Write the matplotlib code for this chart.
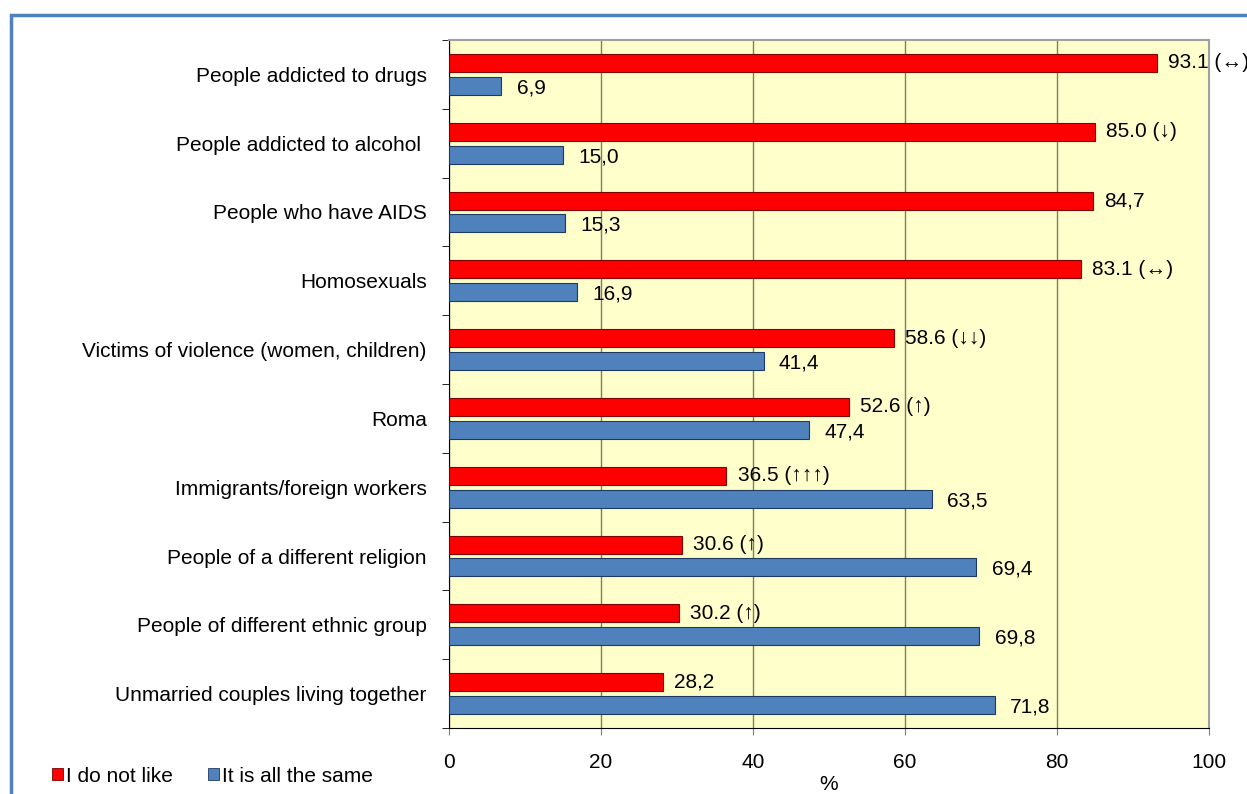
import matplotlib
matplotlib.use("Agg")
import matplotlib.pyplot as plt
from matplotlib.patches import Patch, Rectangle
import numpy as np

plt.rcParams['font.family'] = ['Liberation Sans', 'DejaVu Sans']

categories = [
    "People addicted to drugs",
    "People addicted to alcohol ",
    "People who have AIDS",
    "Homosexuals",
    "Victims of violence (women, children)",
    "Roma",
    "Immigrants/foreign workers",
    "People of a different religion",
    "People of different ethnic group",
    "Unmarried couples living together",
]
dislike = [93.1, 85.0, 84.7, 83.1, 58.6, 52.6, 36.5, 30.6, 30.2, 28.2]
dislike_trend = ["↔", "↓", "", "↔", "↓↓", "↑", "↑↑↑", "↑", "↑", ""]
all_same = [6.9, 15.0, 15.3, 16.9, 41.4, 47.4, 63.5, 69.4, 69.8, 71.8]
series_names = ["I do not like", "It is all the same"]
xticks = [0, 20, 40, 60, 80, 100]

RED = "#FF0000"
BLUE = "#4F81BD"
FS = 15

fig = plt.figure(figsize=(12.47, 7.94), dpi=100)
W, H = 1247, 794

# outer frame of the chart area
fig.patches.append(Rectangle((11 / W, -0.05), 1.1, 1 - 15 / H + 0.05,
                             transform=fig.transFigure, fill=False,
                             edgecolor=BLUE, linewidth=2.5, zorder=0))

ax = fig.add_axes([449 / W, 1 - 728 / H, (1209 - 449) / W, (728 - 40) / H])
ax.set_facecolor("#FFFFCC")

y = np.arange(len(categories))
off, h = 0.166, 0.26
ax.barh(y - off, dislike, height=h, color=RED, edgecolor="#7F0000", linewidth=0.8, zorder=3)
ax.barh(y + off, all_same, height=h, color=BLUE, edgecolor="#1F3A60", linewidth=0.8, zorder=3)

for yi, v, t in zip(y, dislike, dislike_trend):
    lbl = f"{v:.1f} ({t})" if t else f"{v:.1f}".replace(".", ",")
    ax.annotate(lbl, (v, yi - off), xytext=(8, 0), textcoords="offset points",
                va="center", ha="left", fontsize=FS, zorder=4, annotation_clip=False)
for yi, v in zip(y, all_same):
    ax.annotate(f"{v:.1f}".replace(".", ","), (v, yi + off + 0.03), xytext=(11, 0),
                textcoords="offset points", va="center", ha="left", fontsize=FS, zorder=4,
                annotation_clip=False)

ax.set_xlim(0, 100)
ax.set_ylim(len(categories) - 0.5, -0.5)
ax.set_xticks(xticks)
ax.set_xticklabels([str(t) for t in xticks], fontsize=FS)
ax.tick_params(axis="x", length=5, color="#808080", pad=13)
ax.set_yticks(y)
ax.set_yticks(np.arange(len(categories) + 1) - 0.5, minor=True)
ax.set_yticklabels(categories, fontsize=FS)
ax.tick_params(axis="y", which="major", length=0, pad=16)
ax.tick_params(axis="y", which="minor", length=5, color="#000000")
ax.set_xlabel("%", fontsize=FS, labelpad=2)

ax.grid(axis="x", color="#7F7F60", linewidth=1.0, zorder=1)
ax.set_axisbelow(True)
for side in ["top", "right"]:
    ax.spines[side].set_color("#A0A0A0")
    ax.spines[side].set_linewidth(1.5)
ax.spines["left"].set_color("#000000")
ax.spines["bottom"].set_color("#000000")

handles = [Patch(facecolor=RED, edgecolor="#7F0000", linewidth=0.6),
           Patch(facecolor=BLUE, edgecolor="#1F3A60", linewidth=0.6)]
fig.legend(handles, series_names, loc="center left", bbox_to_anchor=(44 / W, 1 - 776 / H),
           ncol=2, frameon=False, fontsize=FS, handlelength=0.5, handleheight=0.5,
           handletextpad=0.15, columnspacing=1.7, borderaxespad=0)

fig.savefig("out.png", dpi=100)
